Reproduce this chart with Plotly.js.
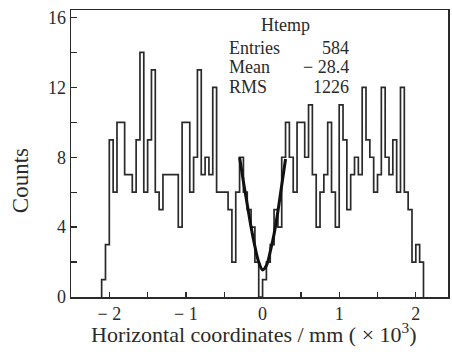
<!DOCTYPE html>
<html>
<head>
<meta charset="utf-8">
<script src="https://cdn.plot.ly/plotly-3.0.1.min.js"></script>
<style>html,body{margin:0;padding:0;background:#fff;}#chart{width:452px;height:352px;}</style>
</head>
<body>
<div id="chart"></div>
<script>
// Histogram: 84 bins of width 0.05 (x10^3 mm) starting at -2.1
const binStart = -2.1;
const binWidth = 0.05;
const counts = [
  1, 3, 9, 6, 10, 10, 7, 7, 6, 9,
  14, 6, 9, 13, 6, 5, 7, 7, 7, 7,
  4, 10, 10, 6, 8, 13, 7, 8, 7, 12,
  6, 6, 6, 5, 2, 6, 8, 6, 5, 4,
  2, 0, 1, 2, 3, 5, 4, 8, 10, 8,
  6, 10, 10, 8, 11, 7, 4, 6, 7, 10,
  6, 4, 11, 9, 5, 7, 8, 7, 12, 9,
  8, 6, 7, 12, 8, 7, 9, 6, 12, 6,
  5, 2, 3, 2
];
// Fitted curve
const fitX = [-0.30, -0.25, -0.20, -0.15, -0.10, -0.05, 0.00, 0.05, 0.10, 0.15, 0.20, 0.25, 0.30];
const fitY = [8.0, 6.6, 5.3, 4.0, 2.9, 2.0, 1.55, 1.8, 2.6, 3.6, 4.9, 6.4, 7.9];
// Stats box
const statTitle = "Htemp";
const statLabels = ["Entries", "Mean", "RMS"];
const statValues = ["584", "\u2212 28.4", "1226"];
// Tick labels
const xTickVals = [-2, -1, 0, 1, 2];
const xTickText = ["\u2212 2", "\u2212 1", "0", "1", "2"];
const yTickVals = [0, 4, 8, 12, 16];
const xTitle = "Horizontal coordinates / mm ( \u00d7 10<sup>3</sup>)";
const yTitle = "Counts";

const stepX = [binStart];
const stepY = [0];
counts.forEach((c, i) => { stepX.push(binStart + i * binWidth); stepY.push(c); });
stepX.push(binStart + counts.length * binWidth);
stepY.push(0);

const font = "Liberation Serif, Times New Roman, serif";
const ink = "#2a2a2a";

const traces = [
  {x: stepX, y: stepY, type: "scatter", mode: "lines",
   line: {shape: "hv", color: ink, width: 1.7}, hoverinfo: "skip"},
  {x: fitX, y: fitY, type: "scatter", mode: "lines",
   line: {shape: "spline", color: "#111", width: 3}, hoverinfo: "skip"}
];

const ann = [{xref: "paper", yref: "paper", x: 0.57, y: 0.948, text: statTitle,
  showarrow: false, xanchor: "center", yanchor: "middle", font: {family: font, size: 18, color: ink}}];
const rowsY = [0.868, 0.801, 0.732];
statLabels.forEach((l, i) => {
  ann.push({xref: "paper", yref: "paper", x: 0.415, y: rowsY[i], text: l, showarrow: false,
    xanchor: "left", yanchor: "middle", font: {family: font, size: 18, color: ink}});
  ann.push({xref: "paper", yref: "paper", x: 0.742, y: rowsY[i], text: statValues[i], showarrow: false,
    xanchor: "right", yanchor: "middle", font: {family: font, size: 18, color: ink}});
});
ann.push({xref: "paper", yref: "paper", x: 0.485, y: -0.125, text: xTitle, showarrow: false,
  xanchor: "center", yanchor: "middle", font: {family: font, size: 22, color: ink}});
ann.push({xref: "paper", yref: "paper", x: -0.135, y: 0.404, text: yTitle, showarrow: false, textangle: -90,
  xanchor: "center", yanchor: "middle", font: {family: font, size: 23, color: ink}});

const layout = {
  width: 452, height: 352,
  margin: {l: 71, r: 4, t: 10, b: 55},
  paper_bgcolor: "#fff", plot_bgcolor: "#fff",
  showlegend: false,
  font: {family: font, color: ink},
  xaxis: {
    range: [-2.5, 2.42], tickvals: xTickVals, ticktext: xTickText, ticks: "inside", ticklen: 5, tickwidth: 1.3, tickcolor: ink,
    minor: {ticks: "inside", dtick: 0.5, tick0: 0, ticklen: 5, tickwidth: 1.3, tickcolor: ink},
    showline: true, mirror: true, linecolor: ink, linewidth: 1.5,
    showgrid: false, zeroline: false,
    tickfont: {family: font, size: 18, color: ink}
  },
  yaxis: {
    range: [0, 16.43], tickvals: yTickVals, ticks: "inside", ticklen: 6, tickwidth: 1.3, tickcolor: ink,
    minor: {ticks: "inside", dtick: 2, tick0: 0, ticklen: 6, tickwidth: 1.3, tickcolor: ink},
    showline: true, mirror: true, linecolor: ink, linewidth: 1.5,
    showgrid: false, zeroline: false,
    tickfont: {family: font, size: 18, color: ink}
  },
  annotations: ann
};

Plotly.newPlot("chart", traces, layout, {staticPlot: true, displayModeBar: false});
</script>
</body>
</html>
